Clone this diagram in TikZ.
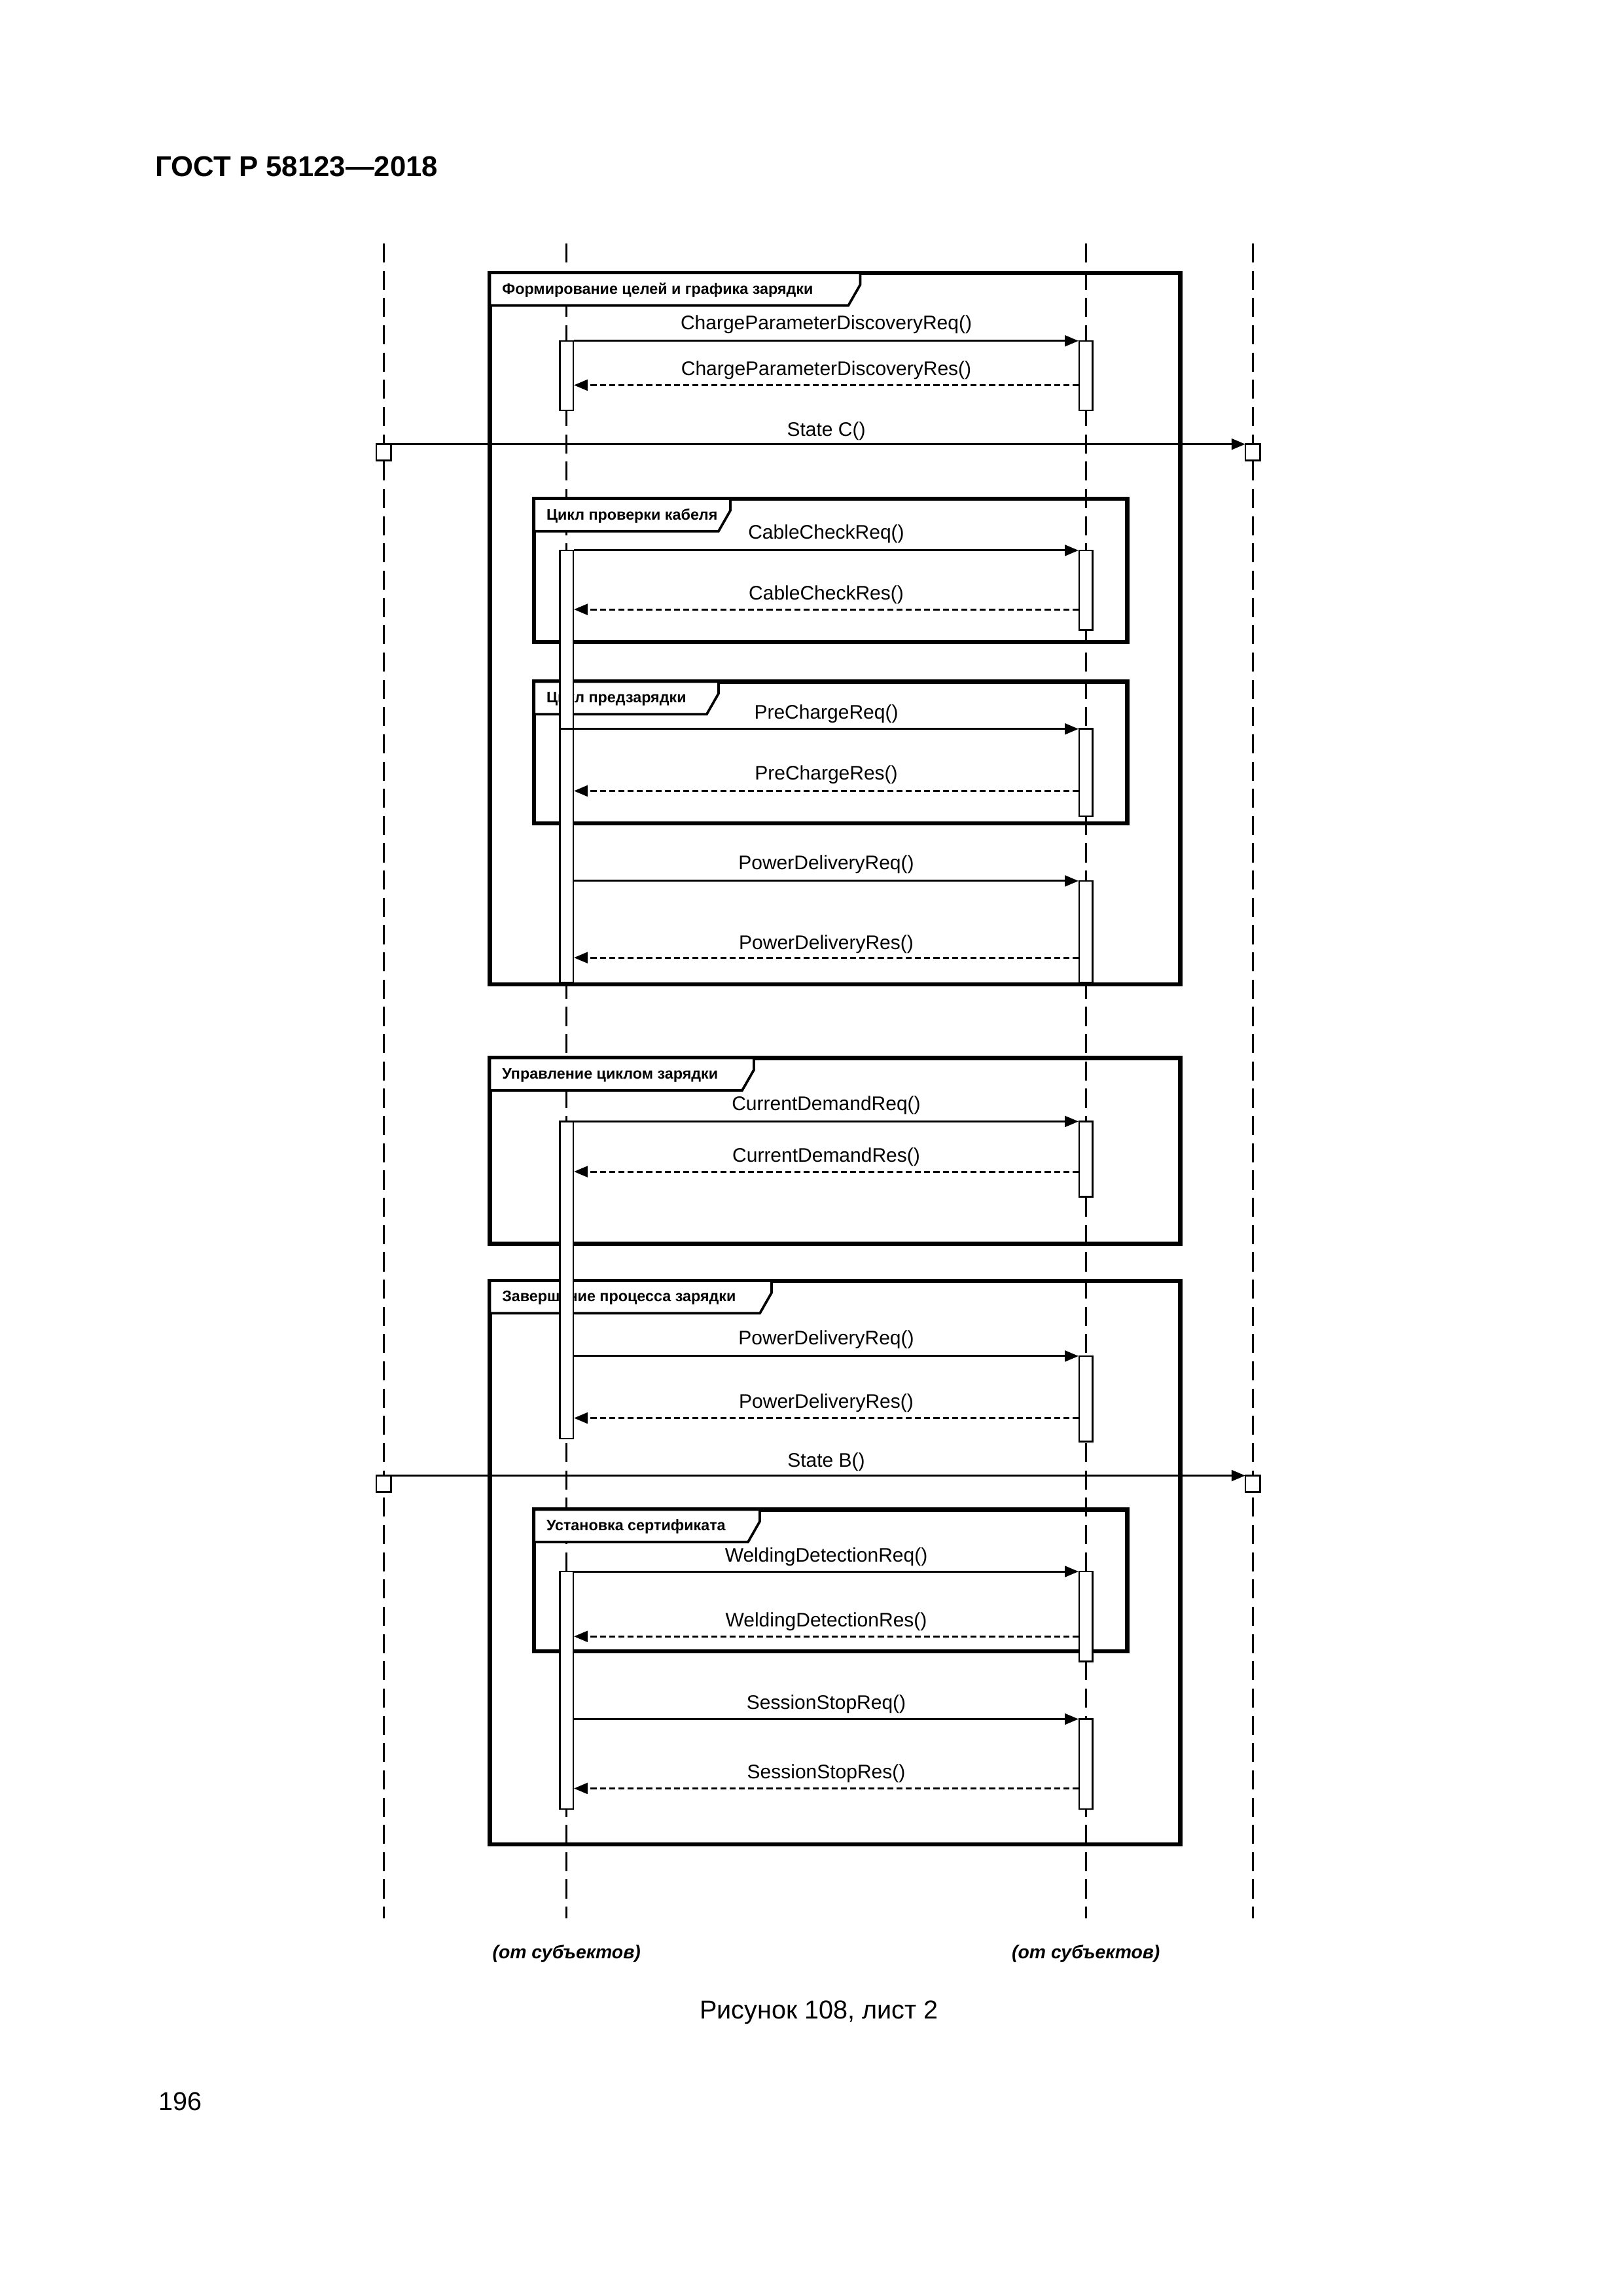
\documentclass[tikz,border=0pt]{standalone}
\usepackage{fontspec}
\setmainfont{Liberation Sans}
\usetikzlibrary{arrows.meta}
\begin{document}
\begin{tikzpicture}[x=0.5412pt,y=-0.5412pt,
  life/.style={line width=0.7pt,dash pattern=on 7pt off 3pt},
  frame/.style={line width=1.5pt},
  tab/.style={line width=0.9pt,fill=white},
  tabtxt/.style={font=\fontsize{5.6}{6}\selectfont\bfseries,anchor=west,inner sep=0pt},
  bar/.style={line width=0.6pt,fill=white},
  req/.style={line width=0.7pt,-{Triangle[length=5pt,width=4pt]}},
  res/.style={line width=0.7pt,dash pattern=on 2.2pt off 1.2pt,-{Triangle[length=5pt,width=4pt]}},
  lbl/.style={font=\fontsize{7.2}{8}\selectfont,inner sep=0pt},
  endbox/.style={line width=0.6pt,fill=white}]
\useasboundingbox (0,0) rectangle (1100,1556);
% header etc.
\node[anchor=west,font=\fontsize{10.5}{12}\selectfont\bfseries,inner sep=0pt] (hdr) at (105,113) {ГОСТ Р 58123—2018};
\node[font=\fontsize{9.5}{11}\selectfont,inner sep=0pt] (cap) at (555,1364) {Рисунок 108, лист 2};
\node[anchor=west,font=\fontsize{9.5}{11}\selectfont,inner sep=0pt] (pg) at (107,1424) {196};
\node[font=\fontsize{6.8}{8}\selectfont\bfseries\itshape,inner sep=0pt] (s1) at (384,1324) {(от субъектов)};
\node[font=\fontsize{6.8}{8}\selectfont\bfseries\itshape,inner sep=0pt] (s2) at (736,1324) {(от субъектов)};
% lifelines
\foreach \x/\n in {260/la,384/lb,736/lc,849/ld}{
  \coordinate (\n t) at (\x,165); \coordinate (\n b) at (\x,1300);
  \draw[life] (\n t) -- (\n b);}
% frames
\newcommand{\umlframe}[6]{% x1,y1,x2,y2,tabx,text
  \draw[frame] (#1,#2) rectangle (#3,#4);
  \draw[tab] (#1,#2) -- (#5,#2) -- (#5,#2+8) -- (#5-8,#2+22) -- (#1,#2+22) -- cycle;
  \node[tabtxt] at (#1+8,#2+11.5) {#6};}
\umlframe{332}{185}{800}{667}{583}{Формирование целей и графика зарядки}
\umlframe{362}{338}{764}{435}{495}{Цикл проверки кабеля}
\umlframe{362}{462}{764}{558}{487}{Цикл предзарядки}
\umlframe{332}{717}{800}{843}{511}{Управление циклом зарядки}
\umlframe{332}{868}{800}{1250}{523}{Завершение процесса зарядки}
\umlframe{362}{1023}{764}{1119}{515}{Установка сертификата}
% activation bars
\newcommand{\actbar}[3]{\draw[bar] (#1-4.5,#2) rectangle (#1+4.5,#3);}
\actbar{384}{231}{278}\actbar{736}{231}{278}
\actbar{384}{373}{666}\actbar{736}{373}{427}
\actbar{384}{494}{666}\actbar{736}{494}{553}
\actbar{736}{597}{666}
\actbar{384}{760}{975}\actbar{736}{760}{811}
\actbar{736}{919}{977}
\actbar{384}{1065}{1226}\actbar{736}{1065}{1126}
\actbar{736}{1165}{1226}
% messages
\newcommand{\msg}[5]{% name, style, y, labely, text
  \coordinate (#1a) at (389,#3); \coordinate (#1b) at (731,#3);
  \ifx#2r\draw[req] (#1a) -- (#1b);\else\draw[res] (#1b) -- (#1a);\fi
  \node[lbl] (#1l) at (560,#4) {#5};}
\msg{m1}{r}{231}{220}{ChargeParameterDiscoveryReq()}
\msg{m2}{s}{261}{251}{ChargeParameterDiscoveryRes()}
\msg{m3}{r}{373}{362}{CableCheckReq()}
\msg{m4}{s}{413}{403}{CableCheckRes()}
\msg{m5}{r}{494}{484}{PreChargeReq()}
\msg{m6}{s}{536}{525}{PreChargeRes()}
\msg{m7}{r}{597}{586}{PowerDeliveryReq()}
\msg{m8}{s}{649}{640}{PowerDeliveryRes()}
\msg{m9}{r}{760}{749}{CurrentDemandReq()}
\msg{m10}{s}{794}{784}{CurrentDemandRes()}
\msg{m11}{r}{919}{908}{PowerDeliveryReq()}
\msg{m12}{s}{961}{951}{PowerDeliveryRes()}
\msg{m13}{r}{1065}{1055}{WeldingDetectionReq()}
\msg{m14}{s}{1109}{1099}{WeldingDetectionRes()}
\msg{m15}{r}{1165}{1155}{SessionStopReq()}
\msg{m16}{s}{1212}{1202}{SessionStopRes()}
% state signals
\newcommand{\statesig}[4]{%
  \draw[endbox] (255,#2) rectangle (265,#2+11); \draw[endbox] (844,#2) rectangle (854,#2+11);
  \coordinate (#1a) at (260,#2); \coordinate (#1b) at (844,#2);
  \draw[req] (#1a) -- (#1b);
  \node[lbl] (#1l) at (560,#3) {#4};}
\statesig{sc}{301}{292}{State C()}
\statesig{sb}{1000}{991}{State B()}
\end{tikzpicture}
\end{document}
